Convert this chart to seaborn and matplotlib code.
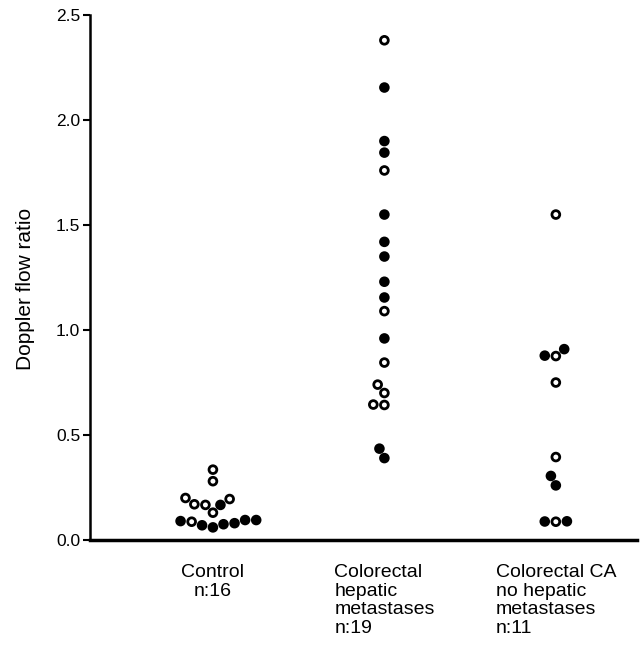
import matplotlib
matplotlib.use("Agg")
import matplotlib.pyplot as plt
import seaborn as sns
import pandas as pd

# values (Doppler flow ratio)
control_open = [0.335, 0.28, 0.20, 0.17, 0.167, 0.195, 0.13, 0.087]
control_filled = [0.167, 0.095, 0.06, 0.07, 0.075, 0.08, 0.09, 0.095]

hepatic_open = [2.38, 1.76, 1.09, 0.845, 0.74, 0.70, 0.645, 0.643]
hepatic_filled = [2.155, 1.90, 1.845, 1.55, 1.42, 1.35, 1.23, 1.155, 0.96, 0.435, 0.39]

nohep_open = [1.55, 0.876, 0.75, 0.395, 0.087]
nohep_filled = [0.909, 0.878, 0.305, 0.26, 0.088, 0.089]

groups = ["Control\nn:16",
          "Colorectal\nhepatic\nmetastases\nn:19",
          "Colorectal CA\nno hepatic\nmetastases\nn:11"]
y_ticks = [0.0, 0.5, 1.0, 1.5, 2.0, 2.5]

rows = []
for grp, opn, fil in zip(groups,
                         [control_open, hepatic_open, nohep_open],
                         [control_filled, hepatic_filled, nohep_filled]):
    for v in opn:
        rows.append((grp, v, "open"))
    for v in fil:
        rows.append((grp, v, "filled"))
df = pd.DataFrame(rows, columns=["group", "ratio", "kind"])

sns.set_style("ticks")
plt.rcParams['font.family'] = ['Liberation Sans', 'DejaVu Sans']
plt.rcParams['text.color'] = 'black'
plt.rcParams['axes.labelcolor'] = 'black'
plt.rcParams['xtick.color'] = 'black'
plt.rcParams['ytick.color'] = 'black'

fig = plt.figure(figsize=(6.41, 6.48), dpi=100)
ax = fig.add_axes([0.1404, 0.1667, 0.853, 0.810])

sns.swarmplot(data=df, x="group", y="ratio", hue="kind", order=groups,
              palette={"open": "white", "filled": "black"},
              edgecolor="black", linewidth=2, size=5.6, ax=ax, legend=False)

ax.set_xlim(-0.717, 2.472)
ax.set_ylim(0, 2.5)
ax.set_yticks(y_ticks)
ax.set_yticklabels([f"{t:.1f}" for t in y_ticks], fontsize=12.5)
ax.set_xticks([0, 1, 2])
ax.set_xticklabels(groups, fontsize=14)
for i, lab in enumerate(ax.get_xticklabels()):
    lab.set_multialignment("center" if i == 0 else "left")
    lab.set_linespacing(1.15)

ax.tick_params(axis="x", length=0, pad=17)
ax.tick_params(axis="y", length=5, width=1.5, pad=2)
ax.set_xlabel("")
ax.set_ylabel("Doppler flow ratio", fontsize=15, labelpad=15)
ax.yaxis.label.set_y(0.478)

sns.despine(ax=ax)
ax.spines["left"].set_linewidth(1.8)
ax.spines["bottom"].set_linewidth(2.5)
ax.spines["left"].set_color("black")
ax.spines["bottom"].set_color("black")

fig.savefig("out.png", dpi=100)
